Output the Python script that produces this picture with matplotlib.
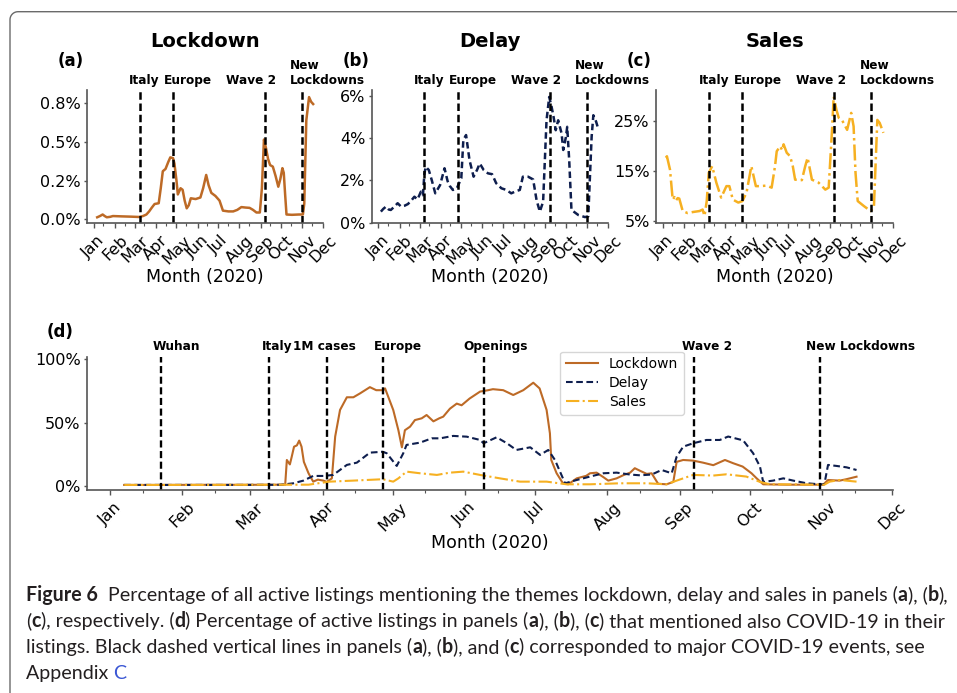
import numpy as np
import matplotlib
matplotlib.use("Agg")
import matplotlib.pyplot as plt
import matplotlib.dates as mdates
from matplotlib.ticker import FixedLocator, FuncFormatter
from matplotlib.lines import Line2D
from matplotlib.font_manager import FontProperties

plt.rcParams["font.family"] = ["DejaVu Sans"]

W, H = 957, 693

# ---- data: day of 2020 (0 = Jan 1) and share of active listings (%) ----
lock_a_day = [5, 9, 13, 16, 19, 24, 28, 40, 55, 66, 72, 77, 81, 85, 89, 95, 98, 101, 105, 109,
              112, 116, 118, 121, 123, 127, 130, 133, 136, 139, 142, 149, 156, 160, 164.5, 168,
              172, 178, 184, 189, 197, 204, 210, 216, 222, 228, 233, 238, 243, 246, 249, 252,
              255, 258, 262, 266, 270, 273, 276, 278, 280, 282, 290, 300, 306, 308, 311, 315,
              318, 321]
lock_a_val = [0.012, 0.02, 0.03, 0.02, 0.012, 0.015, 0.02, 0.018, 0.016, 0.014, 0.02, 0.03,
              0.05, 0.075, 0.098, 0.103, 0.2, 0.31, 0.325, 0.37, 0.40, 0.395, 0.36, 0.25, 0.16,
              0.20, 0.19, 0.12, 0.07, 0.09, 0.135, 0.13, 0.14, 0.2, 0.286, 0.22, 0.17, 0.15,
              0.12, 0.055, 0.05, 0.05, 0.06, 0.078, 0.075, 0.073, 0.06, 0.043, 0.043, 0.2, 0.515,
              0.46, 0.39, 0.35, 0.34, 0.28, 0.21, 0.26, 0.33, 0.30, 0.16, 0.03, 0.028, 0.03,
              0.03, 0.1, 0.64, 0.79, 0.76, 0.745]

delay_b_day = [3.5, 7, 11, 15, 18, 23, 28, 33, 38, 43, 48, 52.5, 57, 62, 65, 67, 69, 73.5, 78,
               83, 90, 96.5, 101, 104, 108.7, 114.5, 121, 124, 128, 133, 139, 144, 148, 153.7,
               160, 166, 172, 179.6, 187, 194, 201.6, 206.5, 211, 218.6, 226, 231, 235.8, 240.6,
               245.6, 249.5, 253, 256, 259, 262.6, 267.6, 270, 274, 275.8, 278.7, 282, 292,
               301.8, 306.6, 311.5, 314, 318, 321]
delay_b_val = [0.52, 0.65, 0.76, 0.62, 0.6, 0.75, 0.92, 0.76, 0.8, 0.88, 1.05, 1.23, 1.1, 1.47,
               1.3, 2.3, 2.65, 2.5, 2.0, 1.39, 1.78, 2.58, 1.97, 1.75, 1.55, 1.63, 2.1, 3.92,
               4.16, 2.97, 2.18, 2.5, 2.81, 2.5, 2.34, 2.3, 1.87, 1.63, 1.55, 1.39, 1.5, 1.55,
               2.18, 2.18, 2.05, 1.07, 0.52, 0.99, 4.86, 5.97, 5.5, 5.0, 4.39, 4.86, 4.24, 3.45,
               4.08, 4.55, 2.97, 0.6, 0.36, 0.26, 0.3, 4.08, 5.1, 4.8, 4.47]

sales_c_day = [4.6, 6, 10.5, 14.4, 17, 19, 21.7, 24, 29, 36, 43.7, 53.5, 58, 60.8, 64, 67, 72,
               78, 85, 92.7, 97, 102, 110, 116, 122, 129, 135.6, 141, 151, 158.6, 163.5, 166,
               171, 174, 176, 180.6, 185.5, 189.4, 192.8, 202.6, 207.5, 211, 217.3, 227, 236.8,
               241.7, 246.6, 249, 253, 256.4, 261, 268.6, 274.5, 278, 280.8, 284, 293, 302.8,
               307.6, 312.6, 316, 321.4]
sales_c_val = [17.7, 18.0, 15.3, 9.3, 9.8, 9.1, 9.6, 9.5, 7.0, 6.6, 6.8, 7.0, 7.3, 6.0, 9.0,
               14.7, 16.0, 12.7, 9.7, 12.0, 12.0, 9.3, 8.7, 9.0, 10.7, 16.0, 12.0, 12.0, 12.1,
               11.7, 16.0, 19.0, 20.0, 19.2, 20.4, 18.7, 18.0, 16.0, 13.3, 13.2, 16.0, 17.7,
               13.3, 12.7, 11.3, 11.7, 23.3, 30.0, 27.3, 25.7, 25.3, 23.3, 26.7, 24.0, 14.7, 9.0,
               8.0, 7.0, 7.7, 25.3, 24.7, 22.7]

# panel (d): listings that also mention COVID-19
lock_d_day = [6, 20, 40, 60, 75, 75.7, 77, 77.8, 78.8, 80, 81, 82, 83, 85, 87, 89, 91.4, 92.8,
              95, 96.4, 98.5, 101.4, 104.2, 107, 111.3, 114, 117, 117.8, 121.3, 123.5, 125,
              126.3, 128.5, 130.6, 133.5, 135.6, 138.5, 141, 142.7, 145.6, 148.5, 150.6, 154,
              158.5, 162, 164, 168.4, 172.7, 177, 181.3, 184, 187, 188.4, 189, 191.3, 194,
              196.3, 199.9, 204, 205.6, 208.4, 211.3, 213.4, 217, 220, 222.8, 224.8, 227, 229.9,
              232, 234.8, 238.4, 241.3, 242.7, 245.5, 249.8, 254, 258.4, 263.4, 267, 271, 274.8,
              277, 279.8, 290, 305.5, 307.6, 312.6, 315.4, 319.8]
lock_d_val = [0.8, 0.8, 0.9, 0.9, 1.0, 20.5, 17, 23, 31, 32, 35.8, 31, 19, 10, 3.4, 5, 4.2, 3.2,
              6, 39, 60, 70, 70, 73, 78, 75.6, 75.6, 77, 60, 44, 30.5, 44, 46.8, 52, 53.4, 56,
              51, 53.4, 54.7, 61, 65, 63.7, 69, 74.5, 75.6, 76.4, 75.6, 71.8, 75.6, 81.5, 77,
              60, 41.6, 20.5, 10, 2.1, 1.3, 6, 8, 10, 10.5, 7, 4.2, 6, 8.6, 10.5, 14, 12, 9.5,
              10, 1.7, 1.3, 3.2, 19, 20.5, 20, 18.4, 16.4, 20.5, 17.9, 15.3, 10, 6, 1.3, 1.0,
              1.0, 4.7, 4.2, 5.3, 7.3]

delay_d_day = [6, 30, 50, 73, 78.5, 82.8, 87, 91.4, 95.6, 101.4, 105.7, 111.3, 116.8, 118.5,
               122.8, 125.6, 127, 132.8, 137.8, 141.4, 147, 152.8, 158.5, 160, 165.6, 170, 174,
               180, 184.2, 187.7, 190.6, 194.9, 199.9, 205.6, 211.3, 217, 222.8, 227, 232,
               236.3, 240.6, 242.7, 245.5, 249.8, 255.5, 261.2, 264.8, 271.2, 275.5, 278.4,
               279.8, 284, 288.4, 292.7, 298.4, 304, 306, 307.6, 311.2, 315.5, 319.8]
delay_d_val = [0.8, 0.8, 0.8, 0.9, 2.1, 4.2, 7.9, 7.9, 8.7, 16.6, 18.4, 26.3, 27, 25.8, 15.8,
               25.8, 32.4, 34.2, 37.6, 37.6, 39.5, 38.9, 36.3, 33.7, 38.4, 33.7, 28.4, 30.5,
               24.5, 28.4, 20.5, 2.1, 4.7, 7.4, 10, 10.5, 9, 8.4, 9, 12.6, 10, 23, 31, 33.7,
               36.3, 36.3, 39, 36, 25.8, 15.3, 3.2, 4.2, 6, 4.2, 2.1, 1.3, 1.3, 16.6, 15.8, 14.7,
               12.6]

sales_d_day = [6, 40, 85, 94, 104, 116.8, 121.3, 123.5, 127, 132.8, 140, 145.6, 151.3, 158.5,
               167, 175.6, 187, 195.6, 205.6, 218.4, 229.9, 238.4, 242.7, 249.8, 258.4, 264.1,
               272.6, 278.4, 282.7, 306, 308.3, 312.6, 319.8]
sales_d_val = [0.8, 0.8, 1.0, 3.4, 4.2, 5.3, 3.4, 6, 11.3, 10, 8.7, 10.5, 11.3, 8.7, 6, 3.4,
               3.4, 1.3, 1.3, 2.1, 2.1, 1.3, 4.2, 8.7, 8.2, 9.2, 7.4, 3.2, 1.3, 1.0, 3.4, 4.7,
               3.4]

# events (day of 2020) and where their labels start; top panels label two lines
ev_top = [("", "Italy"), ("", "Europe"), ("", "Wave 2"), ("New", "Lockdowns")]
ev_top_day = [67, 116, 250, 304]
ev_top_lab = [52, 103, 194, 287]
ev_d = ["Wuhan", "Italy", "1M cases", "Europe", "Openings", "Wave 2", "New Lockdowns"]
ev_d_day = [22, 68, 93, 117, 160, 250, 304]
ev_d_lab = [18, 65, 78.5, 113, 151.5, 245, 298]

C_LOCK = "#BD6A26"
C_DELAY = "#0E1E4E"
C_SALES = "#F6B021"

START = np.datetime64("2020-01-01")


def dates(days):
    return START + np.round(np.asarray(days, float) * 24).astype("timedelta64[h]")


fig = plt.figure(figsize=(W / 100, H / 100), dpi=100)


def box(l, t, r, b):
    return [l / W, 1 - b / H, (r - l) / W, (b - t) / H]


def style(ax, fs=11.5):
    ax.spines["top"].set_visible(False)
    ax.spines["right"].set_visible(False)
    for s in ["left", "bottom"]:
        ax.spines[s].set_color("#555555")
        ax.spines[s].set_linewidth(1.2)
    ax.tick_params(colors="#555555", labelcolor="black", labelsize=fs, length=3.5, width=1)
    ax.tick_params(axis="y", length=2.5, pad=2)
    ax.tick_params(axis="x", which="minor", colors="#555555", length=2, width=0.8)
    ax.tick_params(axis="x", labelrotation=45)
    ax.xaxis.set_major_locator(mdates.MonthLocator())
    ax.xaxis.set_minor_locator(mdates.MonthLocator(bymonthday=15))
    ax.xaxis.set_major_formatter(mdates.DateFormatter("%b"))
    ax.set_xlim(dates(-9.9), dates(335.4))
    ax.set_xlabel("Month (2020)", fontsize=12.5)


VDASH = (0, (3.0, 1.5))

top_panels = [
    ("(a)", "Lockdown", box(87, 90, 323, 223), lock_a_day, lock_a_val, C_LOCK, "-",
     [0, 0.25, 0.5, 0.75], "{:.1f}%", (-0.025, 0.836)),
    ("(b)", "Delay", box(371.7, 90, 608, 223), delay_b_day, delay_b_val, C_DELAY, (0, (2.6, 1.5)),
     [0, 2, 4, 6], "{:.0f}%", (-0.02, 6.3)),
    ("(c)", "Sales", box(656, 90, 893, 223), sales_c_day, sales_c_val, C_SALES, "-.",
     [5, 15, 25], "{:.0f}%", (4.6, 31.3)),
]

for tag, title, rect, xd, yv, col, ls, yt, fmt, yl in top_panels:
    ax = fig.add_axes(rect)
    style(ax)
    ax.plot(dates(xd), yv, color=col, ls=ls, lw=1.8)
    for (upper, lower), d, lab in zip(ev_top, ev_top_day, ev_top_lab):
        ax.axvline(dates([d])[0], color="black", ls=VDASH, lw=1.8)
        ax.text(dates([lab])[0], 1.02, lower, transform=ax.get_xaxis_transform(),
                ha="left", va="bottom", fontsize=8.7, fontweight="bold")
        if upper:
            ax.text(dates([lab])[0], 1.135, upper, transform=ax.get_xaxis_transform(),
                    ha="left", va="bottom", fontsize=8.7, fontweight="bold")
    ax.yaxis.set_major_locator(FixedLocator(yt))
    ax.yaxis.set_major_formatter(FuncFormatter(lambda v, p, f=fmt: f.format(v)))
    ax.set_ylim(*yl)
    ax.xaxis.set_label_coords(0.5, -0.335)
    ax.text(0.5, 1.363, title, transform=ax.transAxes, ha="center", va="center",
            fontsize=14, fontweight="bold")
    ax.text(-0.123, 1.215, tag, transform=ax.transAxes, ha="left", va="center",
            fontsize=12, fontweight="bold")

# panel (d)
axd = fig.add_axes(box(87, 357, 893, 490))
style(axd)
axd.plot(dates(lock_d_day), lock_d_val, color=C_LOCK, lw=1.5, label="Lockdown")
axd.plot(dates(delay_d_day), delay_d_val, color=C_DELAY, lw=1.5, ls=(0, (3.2, 1.7)), label="Delay")
axd.plot(dates(sales_d_day), sales_d_val, color=C_SALES, lw=1.5, ls="-.", label="Sales")
for name, d, lab in zip(ev_d, ev_d_day, ev_d_lab):
    axd.axvline(dates([d])[0], color="black", ls=VDASH, lw=1.7)
    axd.text(dates([lab])[0], 1.03, name, transform=axd.get_xaxis_transform(),
             ha="left", va="bottom", fontsize=8.7, fontweight="bold")
axd.yaxis.set_major_locator(FixedLocator([0, 50, 100]))
axd.yaxis.set_major_formatter(FuncFormatter(lambda v, p: f"{v:.0f}%"))
axd.set_ylim(-3.2, 101.8)
axd.xaxis.set_label_coords(0.5, -0.33)
axd.text(-0.05, 1.19, "(d)", transform=axd.transAxes, ha="left", va="center",
         fontsize=12, fontweight="bold")
axd.legend(loc="upper left", bbox_to_anchor=(0.587, 1.04), borderaxespad=0, fontsize=10,
           handlelength=2.3, labelspacing=0.35, frameon=True)

# frame around the figure (open to the right and bottom)
t = np.linspace(np.pi, np.pi / 2, 12)
fx = np.concatenate([[10], 18 + 8 * np.cos(t), [W + 5]])
fy = np.concatenate([[H + 5], 19.7 - 8 * np.sin(t), [11.7]])
fig.add_artist(Line2D(fx / W, 1 - fy / H, transform=fig.transFigure, color="#6a6a6a", lw=1.0))

# caption
cap = [
    [("Figure 6", "bold"),
     ("  Percentage of all active listings mentioning the themes lockdown, delay and sales in panels (", "normal"),
     ("a", "bold"), ("), (", "normal"), ("b", "bold"), ("),", "normal")],
    [("(", "normal"), ("c", "bold"), ("), respectively. (", "normal"), ("d", "bold"),
     (") Percentage of active listings in panels (", "normal"), ("a", "bold"), ("), (", "normal"),
     ("b", "bold"), ("), (", "normal"), ("c", "bold"), (") that mentioned also COVID-19 in their", "normal")],
    [("listings. Black dashed vertical lines in panels (", "normal"), ("a", "bold"), ("), (", "normal"),
     ("b", "bold"), ("), and (", "normal"), ("c", "bold"),
     (") corresponded to major COVID-19 events, see", "normal")],
    [("Appendix ", "normal"), ("C", "normal", "#3a56d4")],
]
cap_x0, cap_w1 = 26, 919
cap_base = [601, 627, 653, 679]

rend = fig.canvas.get_renderer()


def adv(s, fp):
    w1 = rend.get_text_width_height_descent(s + "|", fp, ismath=False)[0]
    w0 = rend.get_text_width_height_descent("|", fp, ismath=False)[0]
    return w1 - w0


def props(weight, size):
    return FontProperties(family=["Lato", "DejaVu Sans"], weight=weight, size=size)


w_line1 = sum(adv(run[0], props(run[1], 12)) for run in cap[0])
cap_fs = 12 * cap_w1 / w_line1

for line, yb in zip(cap, cap_base):
    x = cap_x0
    for run in line:
        s, wt = run[0], run[1]
        col = run[2] if len(run) > 2 else "#231f20"
        fp = props(wt, cap_fs)
        fig.text(x / W, 1 - yb / H, s, fontproperties=fp, color=col, ha="left", va="baseline")
        x += adv(s, fp)

fig.savefig("out.png", dpi=100)
